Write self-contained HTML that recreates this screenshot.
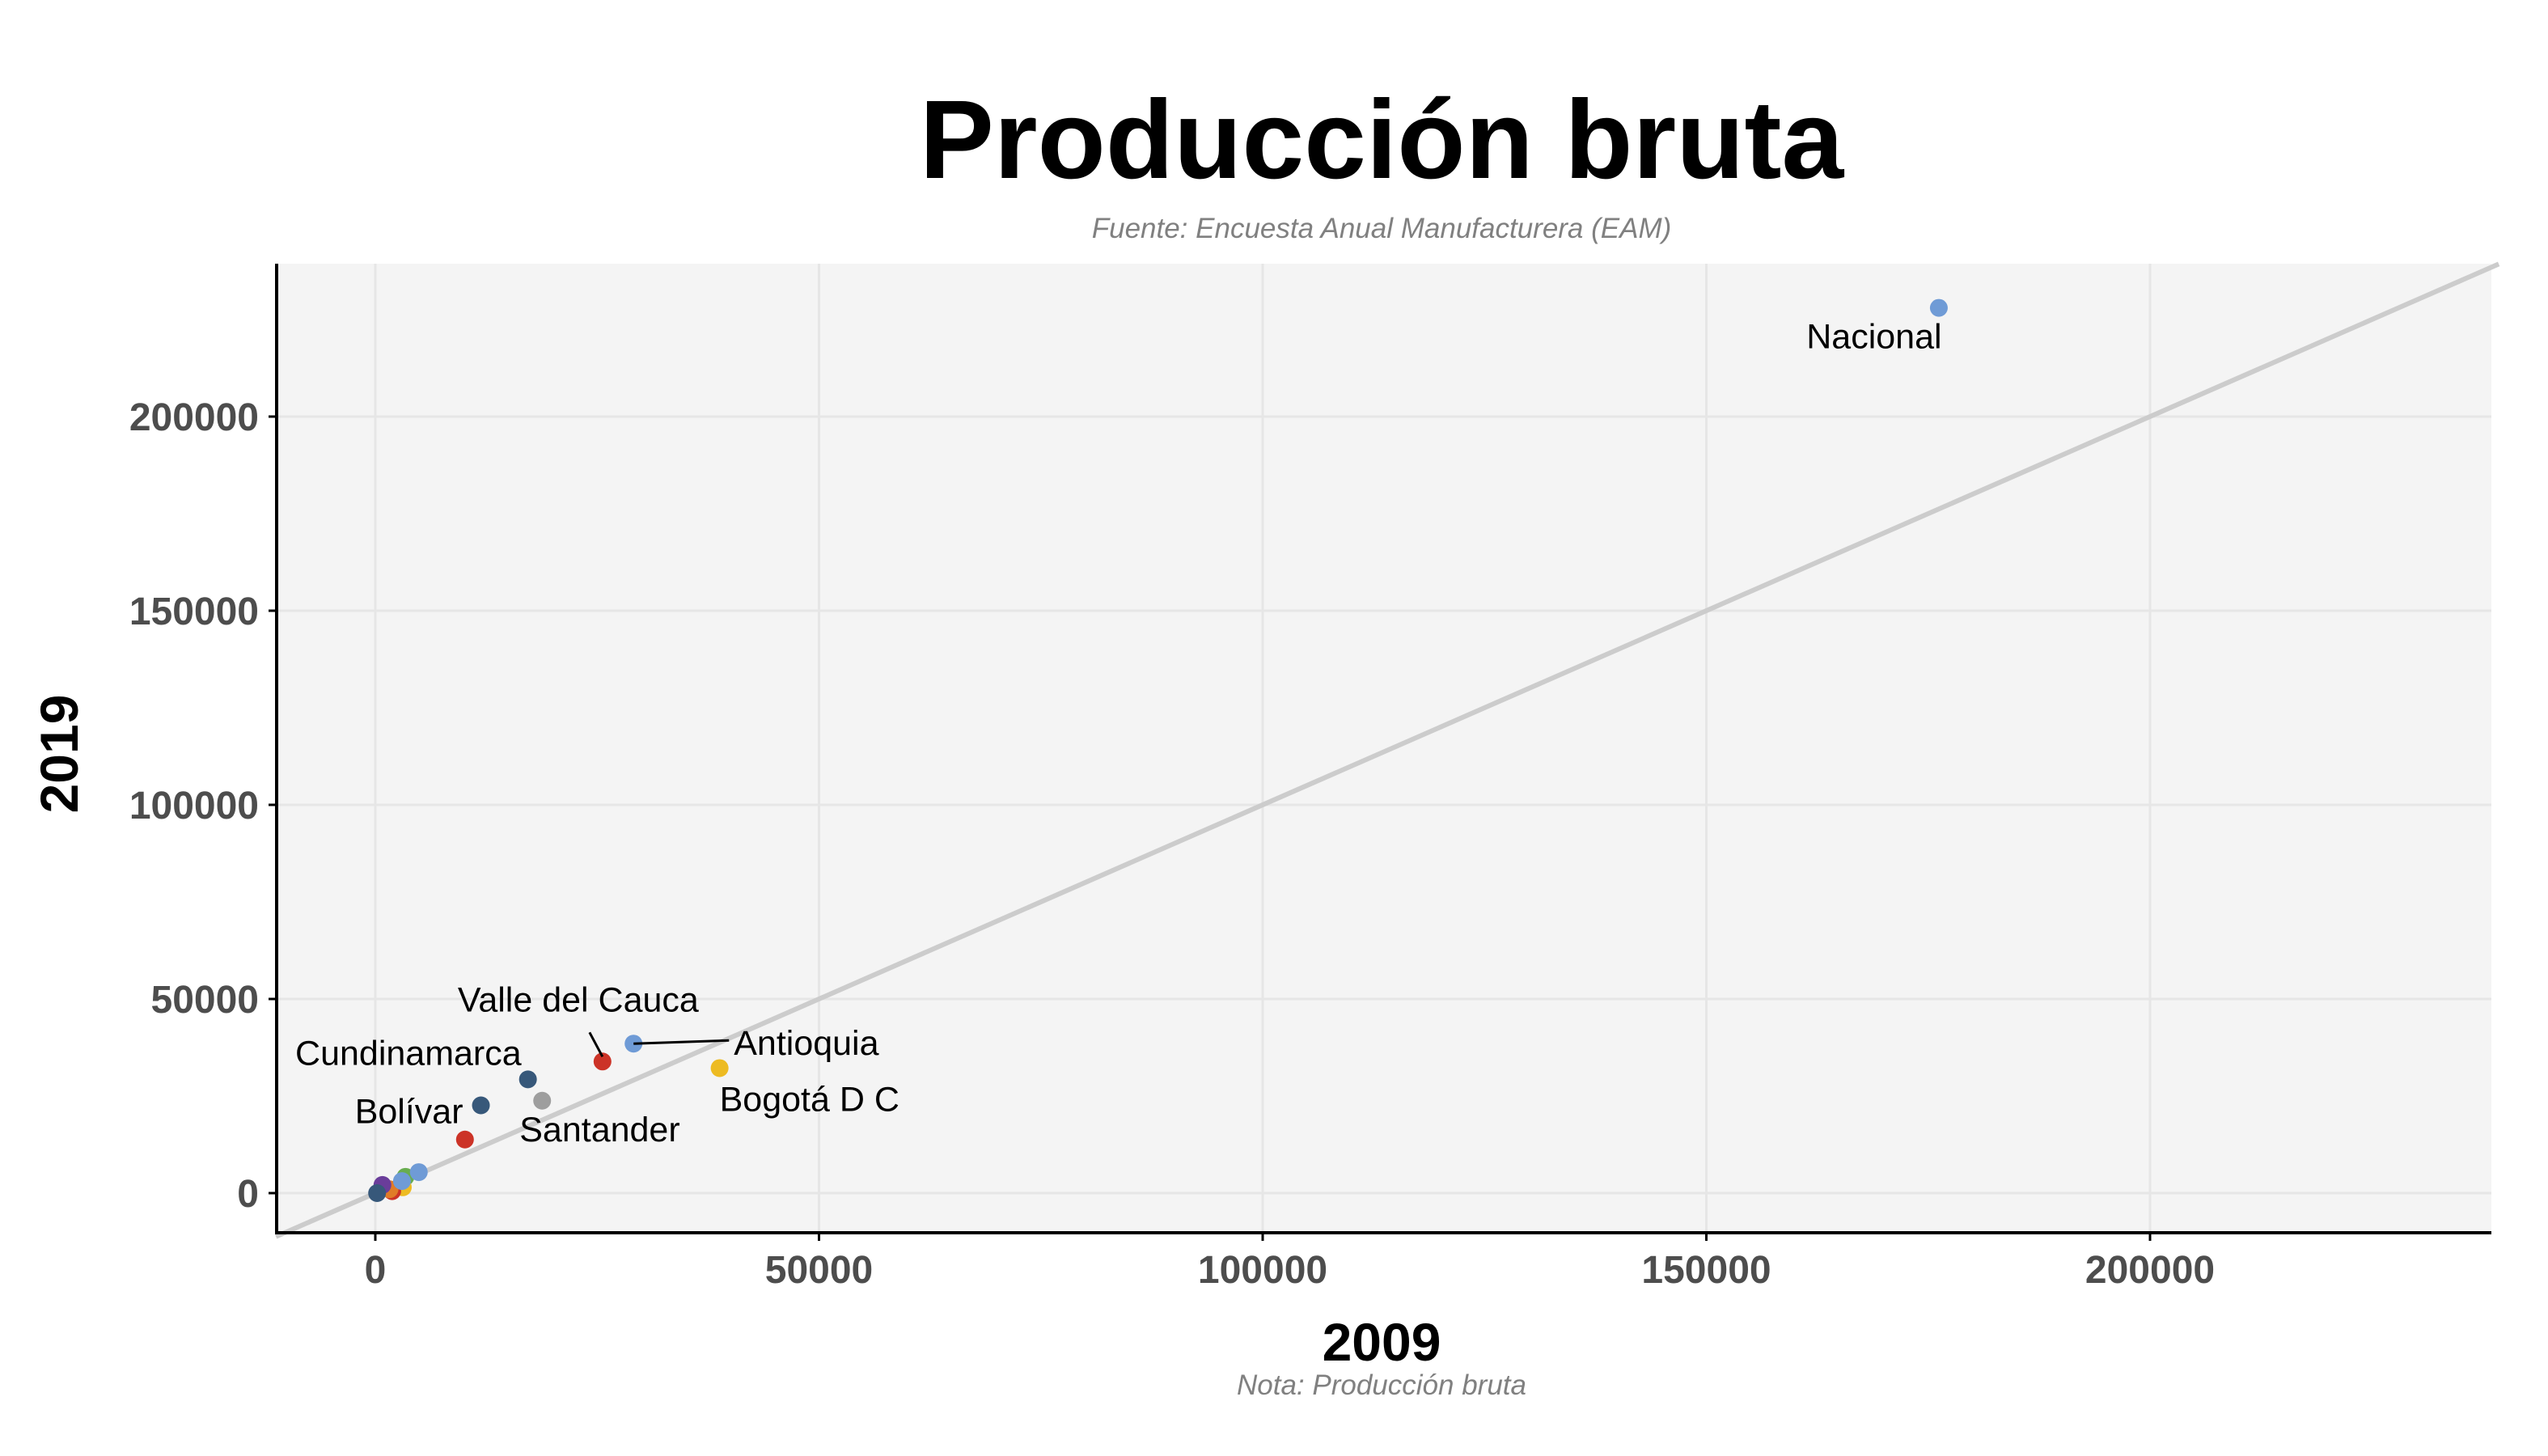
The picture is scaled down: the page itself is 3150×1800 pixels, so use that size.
<!DOCTYPE html>
<html><head><meta charset="utf-8"><style>
html,body{margin:0;padding:0;background:#fff}
svg{display:block}
text{font-family:"Liberation Sans",Arial,sans-serif}
</style></head><body>
<svg id="chart" width="3150" height="1800" viewBox="0 0 3150 1800">
<text x="1708" y="220" text-anchor="middle" font-size="138" font-weight="bold" fill="#000">Producción bruta</text>
<text x="1708" y="294" text-anchor="middle" font-size="35" font-style="italic" fill="#808080">Fuente: Encuesta Anual Manufacturera (EAM)</text>
<rect x="342" y="326" width="2738" height="1198" fill="#f4f4f4"/>
<g id="grid"></g>
<g id="diag"></g>
<g id="pts"></g>
<g id="lbls"></g>
<line x1="342" y1="326" x2="342" y2="1524" stroke="#000" stroke-width="4"/>
<line x1="340" y1="1524" x2="3080" y2="1524" stroke="#000" stroke-width="4"/>
<g id="ticks"></g>
<text x="1708" y="1682" text-anchor="middle" font-size="66" font-weight="bold">2009</text>
<text transform="translate(96,932) rotate(-90)" text-anchor="middle" font-size="66" font-weight="bold">2019</text>
<text x="1708" y="1724" text-anchor="middle" font-size="35" font-style="italic" fill="#808080">Nota: Producción bruta</text>
</svg>
<script>
const xTicks=[0,50000,100000,150000,200000];
const yTicks=[0,50000,100000,150000,200000];
const names=["Nacional","Antioquia","Valle del Cauca","Bogotá D C","Cundinamarca","Santander","Bolívar","p8","p9","p10","p11","p12","p13","p14","p15","p16"];
const xVals=[176200,29100,25600,38800,17200,18800,11900,10100,4900,3400,3000,3100,1900,1600,800,200];
const yVals=[228000,38500,33900,32200,29300,23800,22600,13800,5400,4200,3100,1500,500,1000,2100,0];
const colors=["#6f9bd6","#6f9bd6","#cc3327","#edbb22","#37587a","#9e9e9e","#37587a","#cc3327","#6f9bd6","#68ad4f","#6f9bd6","#edbb22","#cc3327","#e07b27","#6a3d9a","#37587a"];
const drawOrder=[0,1,2,3,4,5,6,7,9,11,12,13,14,10,8,15];
const sx=v=>464+v*1097/100000;
const sy=v=>1475-v*480/100000;
const NS="http://www.w3.org/2000/svg";
function mk(tag,attrs,parent){const e=document.createElementNS(NS,tag);for(const k in attrs)e.setAttribute(k,attrs[k]);parent.appendChild(e);return e;}
const grid=document.getElementById('grid'),ticks=document.getElementById('ticks');
xTicks.forEach(v=>{
 const g=mk('line',{x1:sx(v),x2:sx(v),y1:326,y2:1524,stroke:'#e6e6e6','stroke-width':3},grid);
 
 
 const t=mk('line',{x1:sx(v),x2:sx(v),y1:1524,y2:1534,stroke:'#000','stroke-width':3},ticks);
 
 
 const l=mk('text',{x:sx(v),y:1586,'text-anchor':'middle','font-size':48,'font-weight':'bold',fill:'#4d4d4d'},ticks);
 l.textContent=v;
 
 
});
yTicks.forEach(v=>{
 const g=mk('line',{x1:342,x2:3080,y1:sy(v),y2:sy(v),stroke:'#e6e6e6','stroke-width':3},grid);
 
 
 const t=mk('line',{x1:332,x2:342,y1:sy(v),y2:sy(v),stroke:'#000','stroke-width':3},ticks);
 
 
 const l=mk('text',{x:320,y:sy(v)+17,'text-anchor':'end','font-size':48,'font-weight':'bold',fill:'#4d4d4d'},ticks);
 l.textContent=v;
 
 
});
const dg=document.getElementById('diag');
const d=mk('line',{x1:sx(-11200),y1:sy(-11200),x2:sx(239300),y2:sy(239300),stroke:'#cccccc','stroke-width':6},dg);


const pg=document.getElementById('pts');
drawOrder.forEach(i=>{
 const c=mk('circle',{cx:sx(xVals[i]),cy:sy(yVals[i]),r:11,fill:colors[i]},pg);
 
 
});
const lg=document.getElementById('lbls');
const labelSpec=[[0,-80,50,'middle',0],[1,124,14,'start',1],[2,-30,-62,'middle',1],[3,0,53,'start',0],[4,-8,-18,'end',0],[5,-28,50,'start',0],[6,-22,22,'end',0]];
labelSpec.forEach(s=>{
 const i=s[0],px=sx(xVals[i]),py=sy(yVals[i]);
 if(s[4]){
  let seg;
  if(i===1) seg=mk('line',{x1:px,y1:py,x2:px+118,y2:py-4,stroke:'#000','stroke-width':3},lg);
  else seg=mk('line',{x1:px,y1:py-6,x2:px-16,y2:py-36,stroke:'#000','stroke-width':3},lg);
  
  
 }
 const t=mk('text',{x:px+s[1],y:py+s[2],'text-anchor':s[3],'font-size':43,fill:'#000'},lg);
 t.textContent=names[i];
 
 
});
</script>
</body></html>
